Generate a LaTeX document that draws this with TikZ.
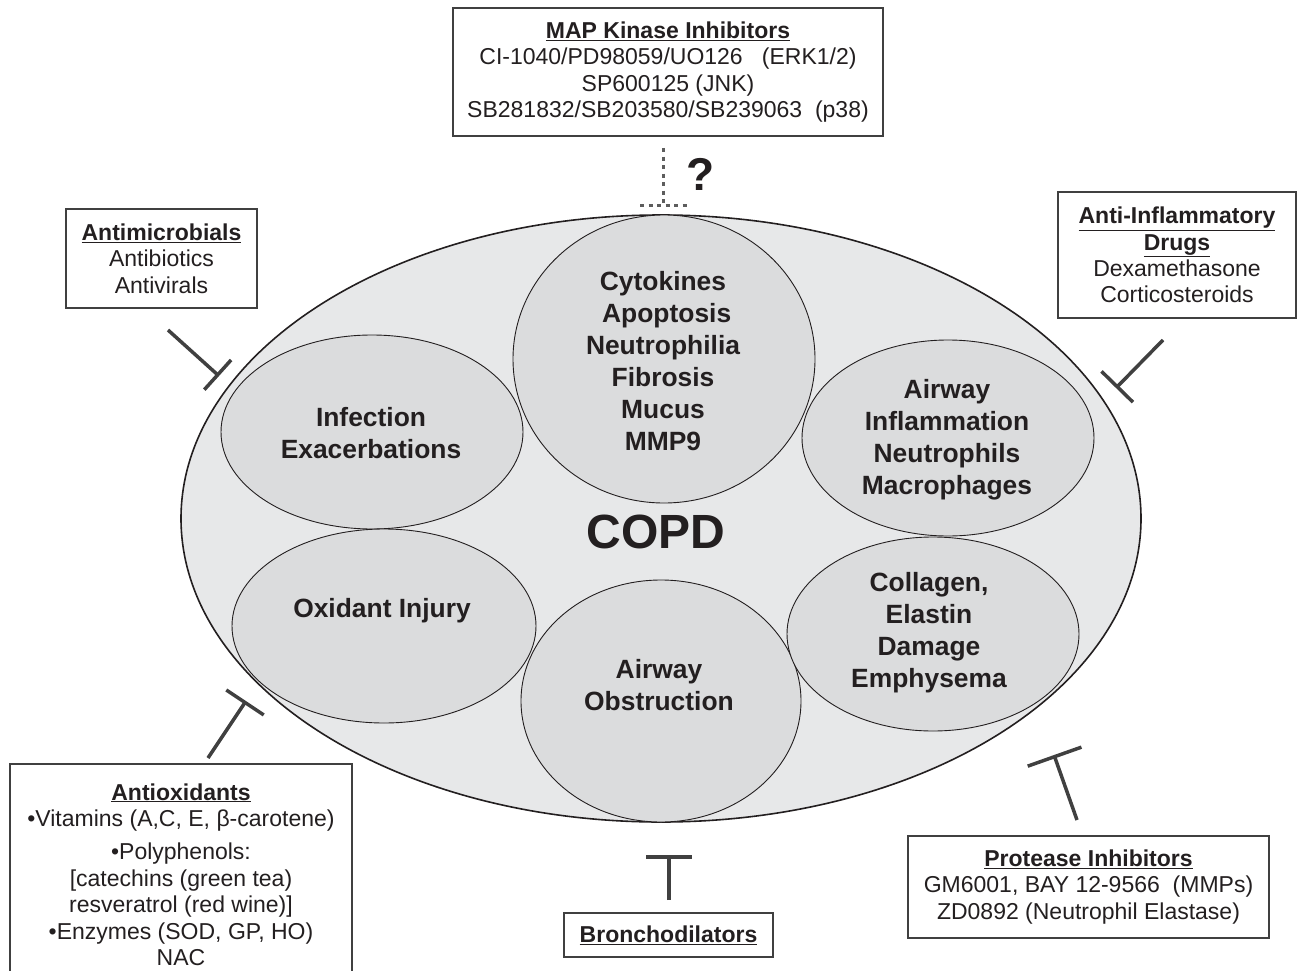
\documentclass[tikz,border=0pt]{standalone}
\usepackage{fontspec}
\setmainfont{Liberation Sans}
\usetikzlibrary{shapes.geometric,arrows.meta}
\definecolor{outerfill}{HTML}{E7E8E9}
\definecolor{innerfill}{HTML}{DBDCDD}
\definecolor{linegray}{HTML}{404040}
\definecolor{txt}{HTML}{231F20}
\begin{document}
\begin{tikzpicture}[x=1pt,y=-1pt,
  region/.style={ellipse, draw=txt, line width=0.9pt, fill=innerfill, inner sep=0pt},
  etext/.style={font=\fontsize{26.4}{32}\selectfont\bfseries, text=txt, align=center},
  drugbox/.style={draw=linegray, line width=2.5pt, fill=white, inner sep=0pt,
     font=\fontsize{23}{26.4}\selectfont, text=txt, align=center},
  inh/.style={draw=linegray, line width=3.5pt, -{Bar[width=#1]}},
  dotline/.style={draw=linegray!85, line width=3pt, dash pattern=on 4pt off 4.5pt}
]
\useasboundingbox (0,0) rectangle (1298,971);
\clip (0,0) rectangle (1298,971);

% big COPD ellipse
\node[ellipse, draw=txt, line width=1.6pt, fill=outerfill, inner sep=0pt,
      minimum width=960pt, minimum height=607pt] (copdell) at (661,518.5) {};

% inner regions
\node[region, minimum width=302pt, minimum height=288pt] (cyto) at (664,359) {};
\node[region, minimum width=302pt, minimum height=194pt] (infe) at (372,432) {};
\node[region, minimum width=292pt, minimum height=196pt] (infl) at (948,438) {};
\node[region, minimum width=304pt, minimum height=194pt] (oxid) at (384,626) {};
\node[region, minimum width=280pt, minimum height=242pt] (obst) at (661,701) {};
\node[region, minimum width=292pt, minimum height=194pt] (coll) at (933,634) {};

\node[etext] (cytot) at (663,361) {Cytokines\\ \ Apoptosis\\Neutrophilia\\Fibrosis\\Mucus\\MMP9};
\node[etext] (infet) at (371,433) {Infection\\Exacerbations};
\node[etext] (inflt) at (947,440) {Airway\\Inflammation\\Neutrophils\\Macrophages};
\node[etext] (oxidt) at (382,611) {Oxidant Injury};
\node[etext] (obstt) at (659,685) {Airway\\Obstruction};
\node[etext] (collt) at (929,633) {Collagen,\\Elastin\\Damage\\Emphysema};

\node[font=\fontsize{48}{48}\selectfont\bfseries, text=txt] (copd) at (656,532) {COPD};

% drug boxes
\node[drugbox, minimum width=430pt, minimum height=128pt] (map) at (668,72)
  {\underline{\textbf{MAP Kinase Inhibitors}}\\
   CI-1040/PD98059/UO126\ \ \ (ERK1/2)\\
   SP600125 (JNK)\\
   SB281832/SB203580/SB239063\ \ (p38)};
\node[drugbox, minimum width=191pt, minimum height=99pt] (amic) at (161.5,258.5)
  {\underline{\textbf{Antimicrobials}}\\Antibiotics\\Antivirals};
\node[drugbox, minimum width=238pt, minimum height=126pt] (ainf) at (1177,255)
  {\underline{\textbf{Anti-Inflammatory}}\\\underline{\textbf{Drugs}}\\Dexamethasone\\Corticosteroids};
\node[drugbox, minimum width=342pt, minimum height=221pt] (aox) at (181,874.5)
  {\underline{\textbf{Antioxidants}}\\
   \textbullet Vitamins (A,C, E, β-carotene)\\[7pt]
   \textbullet Polyphenols:\\
   {[}catechins (green tea)\\
   resveratrol (red wine){]}\\
   \textbullet Enzymes (SOD, GP, HO)\\
   NAC};
\node[drugbox, minimum width=209pt, minimum height=44pt] (bron) at (668.5,935)
  {\underline{\textbf{Bronchodilators}}};
\node[drugbox, minimum width=361pt, minimum height=102pt] (prot) at (1088.5,887)
  {\underline{\textbf{Protease Inhibitors}}\\
   GM6001, BAY 12-9566\ \ (MMPs)\\
   ZD0892 (Neutrophil Elastase)};

% inhibition connectors
\coordinate (am1) at (168,330);  \coordinate (am2) at (219,376);
\coordinate (ai1) at (1163,340); \coordinate (ai2) at (1116,388);
\coordinate (ao1) at (208,758);  \coordinate (ao2) at (246,701);
\coordinate (br1) at (669,900);  \coordinate (br2) at (669,855);
\coordinate (pr1) at (1077,820); \coordinate (pr2) at (1054,755);
\draw[inh=40pt] (am1) -- (am2);
\draw[inh=44pt] (ai1) -- (ai2);
\draw[inh=45pt] (ao1) -- (ao2);
\draw[inh=46pt] (br1) -- (br2);
\draw[inh=57pt] (pr1) -- (pr2);

% MAP kinase dotted inhibition
\coordinate (mp1) at (663,148); \coordinate (mp2) at (663,203);
\coordinate (mpl) at (640,205); \coordinate (mpr) at (688,205);
\draw[dotline] (mp1) -- (mp2);
\draw[dotline] (mpl) -- (mpr);
\node[font=\fontsize{46}{46}\selectfont\bfseries, text=txt] (q) at (701,174) {?};
\end{tikzpicture}
\end{document}
